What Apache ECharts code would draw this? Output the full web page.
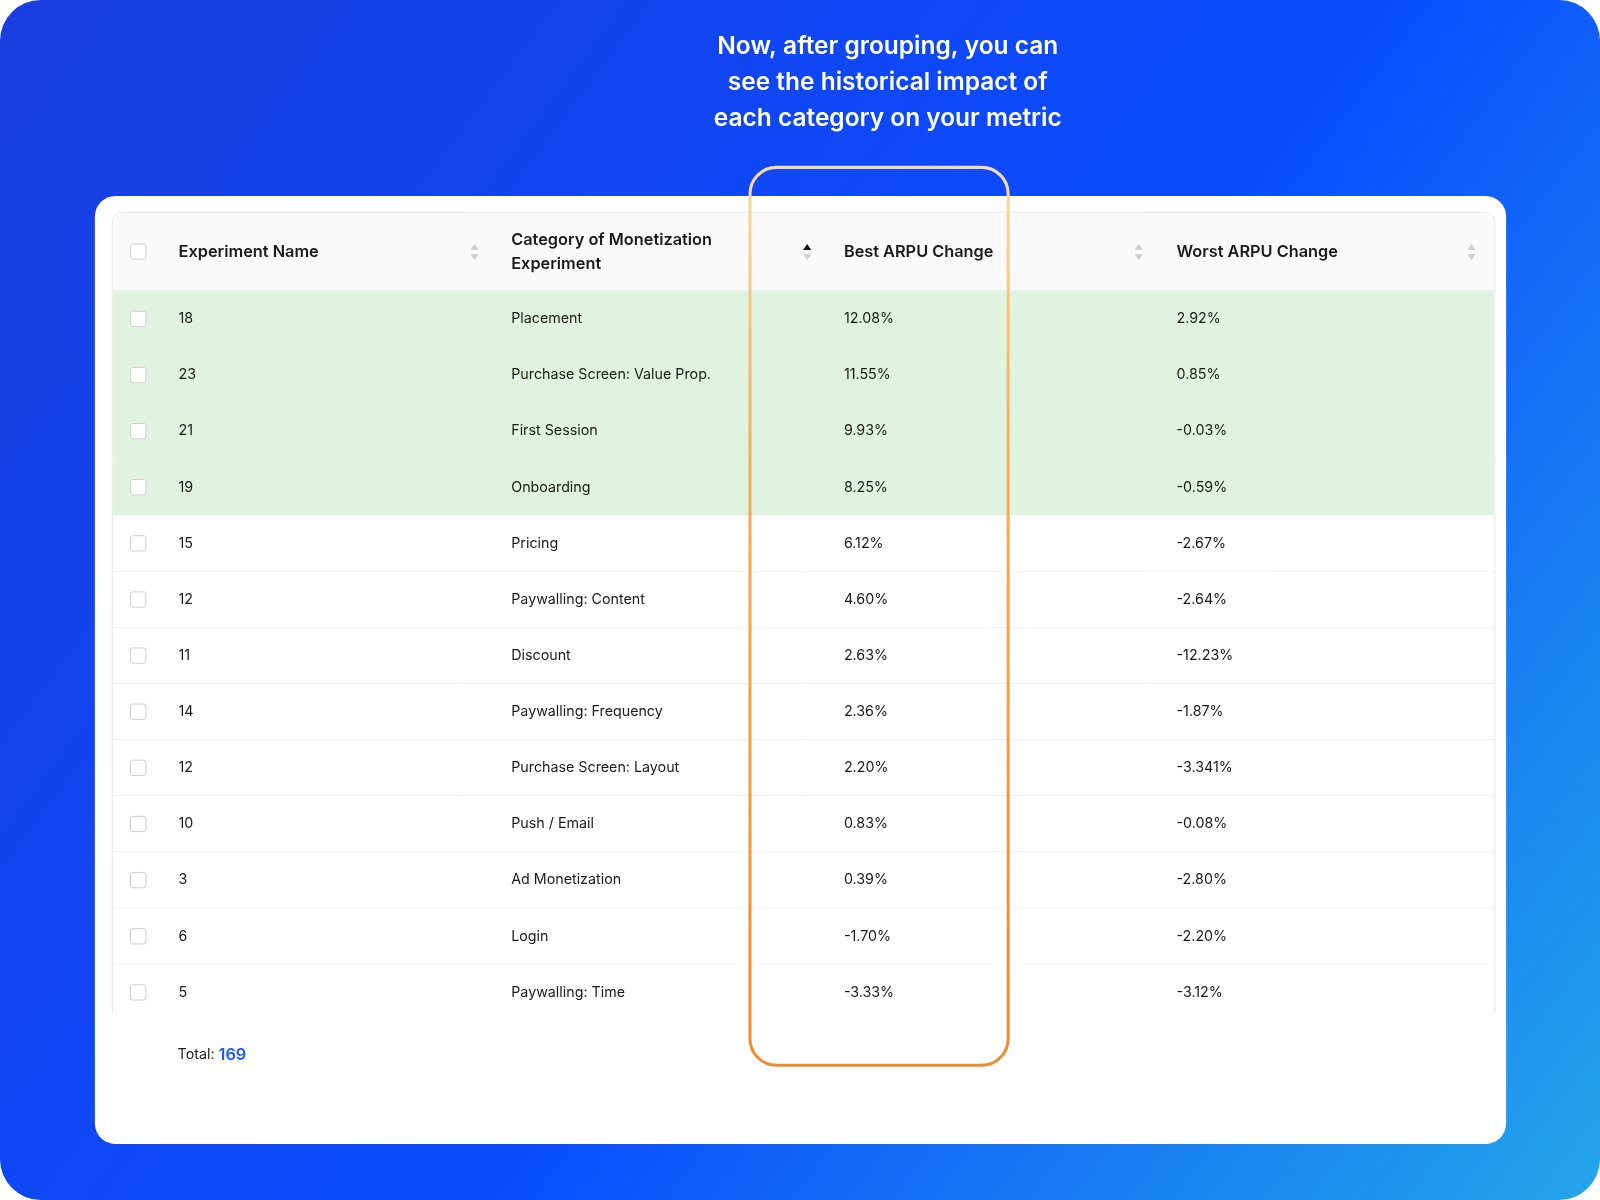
<!DOCTYPE html><html><head><meta charset="utf-8">
<script src="https://cdn.jsdelivr.net/npm/echarts@6/dist/echarts.min.js"></script>
<style>html,body{margin:0;padding:0;background:#fff}#c{width:1600px;height:1200px}</style></head><body><div id="c"></div>
<script>
const experimentNames=['18','23','21','19','15','12','11','14','12','10','3','6','5'];
const categories=['Placement','Purchase Screen: Value Prop.','First Session','Onboarding','Pricing','Paywalling: Content','Discount','Paywalling: Frequency','Purchase Screen: Layout','Push / Email','Ad Monetization','Login','Paywalling: Time'];
const bestChange=['12.08%','11.55%','9.93%','8.25%','6.12%','4.60%','2.63%','2.36%','2.20%','0.83%','0.39%','-1.70%','-3.33%'];
const worstChange=['2.92%','0.85%','-0.03%','-0.59%','-2.67%','-2.64%','-12.23%','-1.87%','-3.341%','-0.08%','-2.80%','-2.20%','-3.12%'];
const highlightedRows=4;
const headers=['Experiment Name','Category of Monetization\nExperiment','Best ARPU Change','Worst ARPU Change'];
const totalCount='169';

const s=1600/1568;
const F='Inter, "Noto Sans", sans-serif';
const S=v=>v*s;
const chart=echarts.init(document.getElementById('c'));
const colX=[175,501,827,1153];
const tableL=110,tableR=1465;
const rowIdx=experimentNames.map((_,i)=>i);
const g=[];
g.push({type:'rect',shape:{x:0,y:0,width:1600,height:1200,r:S(40)},style:{fill:new echarts.graphic.LinearGradient(0,0,1,1,[{offset:0,color:'#1a3ee0'},{offset:0.55,color:'#0a4cff'},{offset:1,color:'#24a6ea'}])},z:0});
['Now, after grouping, you can','see the historical impact of','each category on your metric'].forEach((t,i)=>g.push({type:'text',x:S(870),y:S(46+35*i),style:{text:t,fill:'#fff',font:`600 ${S(24)}px ${F}`,align:'center',verticalAlign:'middle'},z:5}));
g.push({type:'rect',shape:{x:S(93),y:S(192),width:S(1383),height:S(929),r:S(20)},style:{fill:'#fff'},z:1});
g.push({type:'rect',shape:{x:S(tableL),y:S(208),width:S(tableR-tableL),height:S(791),r:S(10)},style:{fill:'#fff',stroke:'#e6e6e6',lineWidth:1},z:2});
g.push({type:'rect',shape:{x:S(tableL+1),y:S(209),width:S(tableR-tableL-2),height:S(76),r:[S(10),S(10),0,0]},style:{fill:'#fafafa'},z:2});
g.push({type:'line',shape:{x1:S(tableL),y1:S(285),x2:S(tableR),y2:S(285)},style:{stroke:'#ececec'},z:3});
g.push({type:'rect',shape:{x:S(128),y:S(239),width:S(15),height:S(15),r:2},style:{fill:'#fff',stroke:'#cfcfcf',lineWidth:1},z:4});
headers.forEach((h,i)=>{
  g.push({type:'text',x:S(colX[i]),y:S(247),style:{text:h,fill:'#1a1a1a',font:`600 ${S(16)}px ${F}`,verticalAlign:'middle',lineHeight:S(23)},z:4});
  const ix=[465,791,1116,1442][i];
  g.push({type:'polygon',shape:{points:[[S(ix-4),S(245)],[S(ix+4),S(245)],[S(ix),S(239)]]},style:{fill:i===1?'#111':'#cfcfcf'},z:4});
  g.push({type:'polygon',shape:{points:[[S(ix-4),S(249)],[S(ix+4),S(249)],[S(ix),S(255)]]},style:{fill:'#cfcfcf'},z:4});
});
g.push({type:'text',x:S(174),y:S(1034),style:{rich:{a:{font:`${S(14)}px ${F}`,fill:'#222'},b:{font:`600 ${S(16)}px ${F}`,fill:'#1a5cff'}},text:'{a|Total: }{b|'+totalCount+'}',verticalAlign:'middle'},z:4});
g.push({type:'rect',shape:{x:S(735),y:S(164),width:S(253),height:S(880),r:S(26)},style:{fill:'none',lineWidth:S(3),stroke:new echarts.graphic.LinearGradient(0,0,0,1,[{offset:0,color:'#f7dca8'},{offset:0.3,color:'#f4b060'},{offset:1,color:'#f08a2e'}])},z:20});

chart.setOption({
  animation:false,
  grid:{left:S(tableL+1),right:1600-S(tableR-1),top:S(285),height:S(715)},
  xAxis:{type:'value',min:0,max:1,show:false},
  yAxis:{type:'category',data:rowIdx.map(String),inverse:true,show:false},
  graphic:g,
  series:[{type:'custom',z:3,data:rowIdx.map(i=>[0,i]),
    renderItem:(p,api)=>{
      const i=api.value(1);
      const top=api.coord([0,i]);const sz=api.size([0,1]);
      const y0=top[1]-sz[1]/2,h=sz[1],yc=top[1];
      const x0=top[0],w=S(tableR-tableL-2);
      const ch=[{type:'rect',shape:{x:x0,y:y0,width:w,height:h},style:{fill:i<highlightedRows?'#dff3e0':'#fff'}}];
      if(i<experimentNames.length-1&&i>=highlightedRows-1)ch.push({type:'line',shape:{x1:x0,y1:y0+h,x2:x0+w,y2:y0+h},style:{stroke:'#e8e8e8',lineWidth:1}});
      ch.push({type:'rect',shape:{x:S(128),y:yc-S(7.5),width:S(15),height:S(15),r:2},style:{fill:'#fff',stroke:'#cfcfcf',lineWidth:1}});
      [experimentNames[i],categories[i],bestChange[i],worstChange[i]].forEach((t,k)=>ch.push({type:'text',x:S(colX[k]),y:yc,style:{text:t,fill:'#1a1a1a',font:`${S(14)}px ${F}`,verticalAlign:'middle'}}));
      return {type:'group',children:ch};
    }}]
});
</script></body></html>
